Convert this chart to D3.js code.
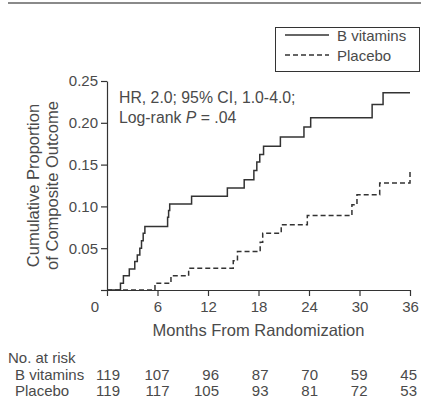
<!DOCTYPE html>
<html><head><meta charset="utf-8">
<script src="https://cdn.jsdelivr.net/npm/d3@7"></script>
<style>
html,body{margin:0;padding:0;background:#fff;}
text{font-family:"Liberation Sans",Arial,Helvetica,sans-serif;fill:#4a4a4a;}
</style></head>
<body><svg id="c" width="422" height="402"></svg>
<script>
// ---- data ----
const bvitTimes  = [0, 1.6, 1.95, 2.65, 3.3, 3.6, 3.9, 4.1, 4.3, 4.5, 7.2, 7.32, 7.45, 10.05, 14.3, 16.3, 17.45, 17.8, 18.15, 18.6, 20.6, 23.4, 24.2, 31.5, 32.8, 36];
const bvitValues = [0, 0.008, 0.017, 0.025, 0.034, 0.042, 0.050, 0.059, 0.068, 0.076, 0.087, 0.095, 0.103, 0.112, 0.122, 0.132, 0.143, 0.153, 0.162, 0.172, 0.183, 0.195, 0.206, 0.222, 0.236, 0.236];
const placTimes  = [0, 5.7, 7.6, 9.7, 15.0, 15.5, 18.2, 18.5, 20.7, 23.8, 29.1, 29.7, 32.4, 36];
const placValues = [0, 0.008, 0.017, 0.026, 0.035, 0.046, 0.057, 0.068, 0.078, 0.089, 0.102, 0.114, 0.128, 0.144];
const xTicks = [0, 6, 12, 18, 24, 30, 36];
const yTicks = [0, 0.05, 0.10, 0.15, 0.20, 0.25];
const seriesNames = ["B vitamins", "Placebo"];
const riskBvit = [119, 107, 96, 87, 70, 59, 45];
const riskPlac = [119, 117, 105, 93, 81, 72, 53];

const svg = d3.select("#c");
const x = d3.scaleLinear().domain([0, 36]).range([107, 410]);
const y = d3.scaleLinear().domain([0, 0.25]).range([290, 81]);
const ink = "#333";

// top rule
svg.append("line").attr("x1", 8).attr("x2", 421).attr("y1", 3).attr("y2", 3)
  .attr("stroke", "#8a8a8a").attr("stroke-width", 2);

// axes
const xAxis = d3.axisBottom(x).tickValues(xTicks).tickSize(6).tickSizeOuter(0).tickPadding(5)
  .tickFormat(d => d === 0 ? "" : d3.format("d")(d));
const gx = svg.append("g").attr("transform", "translate(0,290)").call(xAxis);
const yAxis = d3.axisLeft(y).tickValues(yTicks).tickSize(6).tickSizeOuter(0).tickPadding(3)
  .tickFormat(d => d === 0 ? "" : d3.format(".2f")(d));
const gy = svg.append("g").attr("transform", "translate(107,0)").call(yAxis);
[gx, gy].forEach(g => {
  g.selectAll("path.domain").attr("stroke", ink).attr("stroke-width", 1.2);
  g.selectAll(".tick line").attr("stroke", ink).attr("stroke-width", 1.2);
  g.selectAll(".tick text").attr("font-size", 15).attr("fill", "#4a4a4a")
    .attr("font-family", '"Liberation Sans",Arial,sans-serif');
});
// shared origin label
svg.append("text").attr("x", x(0) - 12).attr("y", 312).attr("text-anchor", "middle")
  .attr("font-size", 15).text("0");

// axis titles
svg.append("text").attr("x", (x(0) + x(36)) / 2).attr("y", 336).attr("text-anchor", "middle")
  .attr("font-size", 16.5).text("Months From Randomization");
const yl = svg.append("g").attr("transform", `translate(0,${(y(0) + y(0.25)) / 2})`);
yl.append("text").attr("transform", "translate(39,0) rotate(-90)").attr("text-anchor", "middle")
  .attr("font-size", 16.5).text("Cumulative Proportion");
yl.append("text").attr("transform", "translate(58,0) rotate(-90)").attr("text-anchor", "middle")
  .attr("font-size", 16.5).text("of Composite Outcome");

// curves
const line = d3.line().x(d => x(d[0])).y(d => y(d[1])).curve(d3.curveStepAfter);
svg.append("path").datum(d3.zip(bvitTimes, bvitValues)).attr("d", line)
  .attr("fill", "none").attr("stroke", ink).attr("stroke-width", 1.5);
svg.append("path").datum(d3.zip(placTimes, placValues)).attr("d", line)
  .attr("fill", "none").attr("stroke", ink).attr("stroke-width", 1.5).attr("stroke-dasharray", "5,3");

// annotation
svg.append("text").attr("x", 119).attr("y", 103).attr("font-size", 15.8).text("HR, 2.0; 95% CI, 1.0-4.0;");
const t2 = svg.append("text").attr("x", 119).attr("y", 123).attr("font-size", 15.8);
t2.append("tspan").text("Log-rank ");
t2.append("tspan").attr("font-style", "italic").text("P");
t2.append("tspan").text(" = .04");

// legend
const lg = svg.append("g");
lg.append("rect").attr("x", 275.5).attr("y", 27.5).attr("width", 144).attr("height", 44)
  .attr("fill", "#fff").attr("stroke", ink).attr("stroke-width", 1);
seriesNames.forEach((name, i) => {
  const ly = 35 + i * 20;
  lg.append("line").attr("x1", 285).attr("x2", 329).attr("y1", ly).attr("y2", ly)
    .attr("stroke", ink).attr("stroke-width", 1.5).attr("stroke-dasharray", i ? "5,3" : null);
  lg.append("text").attr("x", 337).attr("y", ly + 6).attr("font-size", 15).text(name);
});

// risk table
const xr = d3.scaleLinear().domain([0, 36]).range([120, 417]);
svg.append("text").attr("x", 8).attr("y", 363).attr("font-size", 15).text("No. at risk");
[[seriesNames[0], riskBvit, 380], [seriesNames[1], riskPlac, 396]].forEach(([name, vals, ry]) => {
  svg.append("text").attr("x", 15).attr("y", ry).attr("font-size", 15).text(name);
  svg.selectAll(null).data(vals).enter().append("text")
    .attr("x", (d, i) => xr(xTicks[i])).attr("y", ry).attr("text-anchor", "end")
    .attr("font-size", 15).text(d => d);
});
</script></body></html>
